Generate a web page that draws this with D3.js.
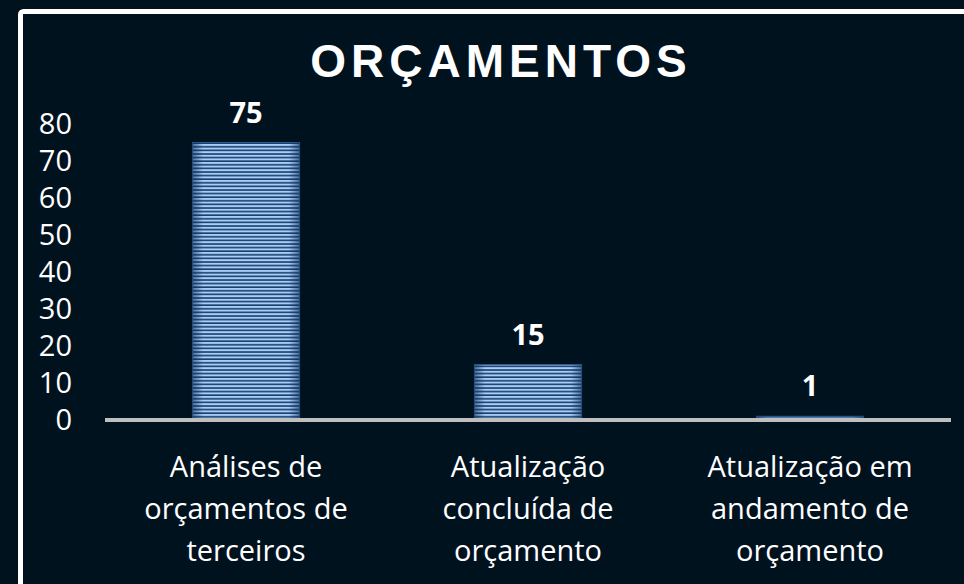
<!DOCTYPE html>
<html>
<head>
<meta charset="utf-8">
<script src="https://cdn.jsdelivr.net/npm/d3@7"></script>
<style>
  html, body { margin: 0; padding: 0; background: #01121f; }
  svg { display: block; }
</style>
</head>
<body>
<div id="chart"></div>
<script>
// chart data
var categories = [
    ["Análises de", "orçamentos de", "terceiros"],
    ["Atualização", "concluída de", "orçamento"],
    ["Atualização em", "andamento de", "orçamento"]
];
var values = [75, 15, 1];
var yTicks = [0, 10, 20, 30, 40, 50, 60, 70, 80];
var title = "ORÇAMENTOS";

var W = 964, H = 584;

var svg = d3.select("#chart").append("svg")
    .attr("width", W)
    .attr("height", H);

svg.append("rect")
    .attr("width", W).attr("height", H)
    .attr("fill", "#01121f");

// striped fill for the bars
var defs = svg.append("defs");
var pat = defs.append("pattern")
    .attr("id", "stripes")
    .attr("patternUnits", "userSpaceOnUse")
    .attr("width", 10)
    .attr("height", 3.6);
pat.append("rect").attr("width", 10).attr("height", 3.6).attr("fill", "#a9cdf3");
pat.append("rect").attr("y", 2.0).attr("width", 10).attr("height", 1.6).attr("fill", "#163f70");

var shade = defs.append("linearGradient")
    .attr("id", "shade")
    .attr("x1", "0%").attr("x2", "100%").attr("y1", "0%").attr("y2", "0%");
shade.append("stop").attr("offset", "0%").attr("stop-color", "#0d2f5a").attr("stop-opacity", 0.6);
shade.append("stop").attr("offset", "10%").attr("stop-color", "#0d2f5a").attr("stop-opacity", 0);
shade.append("stop").attr("offset", "90%").attr("stop-color", "#0d2f5a").attr("stop-opacity", 0);
shade.append("stop").attr("offset", "100%").attr("stop-color", "#0d2f5a").attr("stop-opacity", 0.6);

// scales
var x = d3.scaleBand()
    .domain(d3.range(categories.length))
    .range([105, 951])
    .padding(0);
var barW = x.step() * 0.38;

var y = d3.scaleLinear()
    .domain([0, 80])
    .range([420, 124]);

// title
svg.append("text")
    .attr("x", 501)
    .attr("y", 77)
    .attr("text-anchor", "middle")
    .style("font-family", "'Liberation Sans', Arial, sans-serif")
    .style("font-weight", "bold")
    .style("font-size", "46px")
    .style("letter-spacing", "5px")
    .attr("fill", "#ffffff")
    .text(title);

// y axis labels (no axis line)
var yAxis = d3.axisLeft(y).tickValues(yTicks).tickSize(0).tickPadding(0);
var gy = svg.append("g")
    .attr("transform", "translate(72,0)")
    .call(yAxis);
gy.select(".domain").remove();
gy.selectAll("text")
    .attr("fill", "#ffffff")
    .style("font-family", "'Open Sans', sans-serif")
    .style("font-size", "29px");

// bars
var bars = svg.append("g");
bars.selectAll("rect.bar")
    .data(values)
    .enter().append("rect")
    .attr("class", "bar")
    .attr("x", function(d, i) { return x(i) + (x.step() - barW) / 2; })
    .attr("y", function(d) { return y(d); })
    .attr("width", barW)
    .attr("height", function(d) { return y(0) - y(d); })
    .attr("fill", "url(#stripes)")
    .attr("stroke", "#2e5d90")
    .attr("stroke-width", 1);
bars.selectAll("rect.shade")
    .data(values)
    .enter().append("rect")
    .attr("class", "shade")
    .attr("x", function(d, i) { return x(i) + (x.step() - barW) / 2; })
    .attr("y", function(d) { return y(d); })
    .attr("width", barW)
    .attr("height", function(d) { return y(0) - y(d); })
    .attr("fill", "url(#shade)");

// baseline
svg.append("line")
    .attr("x1", 105).attr("x2", 951)
    .attr("y1", y(0)).attr("y2", y(0))
    .attr("stroke", "#bfbfbf")
    .attr("stroke-width", 4);

// value labels
svg.selectAll("text.val")
    .data(values)
    .enter().append("text")
    .attr("class", "val")
    .attr("x", function(d, i) { return x(i) + x.step() / 2; })
    .attr("y", function(d) { return y(d) - 20; })
    .attr("text-anchor", "middle")
    .style("font-family", "'Open Sans', sans-serif")
    .style("font-weight", "bold")
    .style("font-size", "29px")
    .attr("fill", "#ffffff")
    .text(function(d) { return d; });

// category labels
var cat = svg.selectAll("text.cat")
    .data(categories)
    .enter().append("text")
    .attr("class", "cat")
    .attr("text-anchor", "middle")
    .style("font-family", "'Open Sans', sans-serif")
    .style("font-size", "29px")
    .attr("fill", "#ffffff");
cat.selectAll("tspan")
    .data(function(d, i) { return d.map(function(s) { return {s: s, i: i}; }); })
    .enter().append("tspan")
    .attr("x", function(d) { return x(d.i) + x.step() / 2; })
    .attr("y", function(d, j) { return 477 + j * 42; })
    .text(function(d) { return d.s; });

// white frame
svg.append("rect")
    .attr("x", 20.5).attr("y", 11.5)
    .attr("width", 1000).attr("height", 1000)
    .attr("rx", 3)
    .attr("fill", "none")
    .attr("stroke", "#ffffff")
    .attr("stroke-width", 5);
</script>
</body>
</html>
